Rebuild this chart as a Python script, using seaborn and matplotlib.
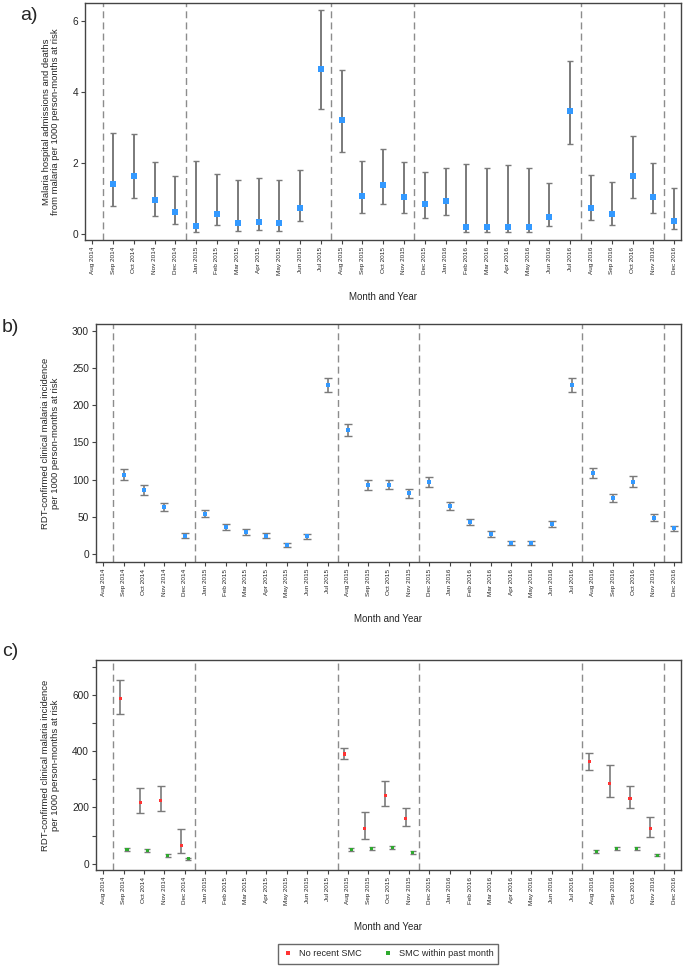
import matplotlib
matplotlib.use("Agg")
import matplotlib.pyplot as plt
import numpy as np
import pandas as pd
import seaborn as sns

sns.set_theme(style="ticks")
plt.rcParams["font.family"] = ["Liberation Sans", "DejaVu Sans"]

nan = np.nan

months = [
    "Aug 2014", "Sep 2014", "Oct 2014", "Nov 2014", "Dec 2014",
    "Jan 2015", "Feb 2015", "Mar 2015", "Apr 2015", "May 2015", "Jun 2015", "Jul 2015",
    "Aug 2015", "Sep 2015", "Oct 2015", "Nov 2015", "Dec 2015",
    "Jan 2016", "Feb 2016", "Mar 2016", "Apr 2016", "May 2016", "Jun 2016", "Jul 2016",
    "Aug 2016", "Sep 2016", "Oct 2016", "Nov 2016", "Dec 2016",
]

# round boundaries (between months)
round_breaks = [0.5, 4.5, 11.5, 15.5, 23.5, 27.5]

# a) hospital admissions and deaths per 1000 person-months
a_rate = [nan, 1.41, 1.64, 0.96, 0.62, 0.21, 0.57, 0.31, 0.33, 0.31, 0.74, 4.64,
          3.20, 1.06, 1.38, 1.05, 0.83, 0.93, 0.20, 0.19, 0.20, 0.19, 0.49, 3.45,
          0.74, 0.56, 1.62, 1.03, 0.37]
a_lo = [nan, 0.78, 1.02, 0.51, 0.28, 0.05, 0.24, 0.09, 0.10, 0.09, 0.37, 3.51,
        2.30, 0.60, 0.85, 0.60, 0.44, 0.52, 0.05, 0.05, 0.05, 0.05, 0.21, 2.53,
        0.38, 0.26, 1.01, 0.59, 0.15]
a_hi = [nan, 2.84, 2.80, 2.02, 1.62, 2.05, 1.69, 1.52, 1.57, 1.52, 1.79, 6.30,
        4.61, 2.05, 2.39, 2.02, 1.74, 1.87, 1.98, 1.86, 1.93, 1.87, 1.44, 4.86,
        1.66, 1.46, 2.76, 2.00, 1.29]

# b) RDT-confirmed clinical malaria incidence
b_rate = [nan, 106.8, 85.4, 62.6, 24.6, 54.1, 35.8, 29.1, 24.6, 12.1, 23.7, 227.1,
          166.7, 92.5, 93.0, 81.4, 96.6, 63.9, 42.5, 26.8, 14.3, 14.8, 39.8, 227.5,
          108.2, 74.7, 97.0, 48.7, 34.4]
b_lo = [nan, 99.2, 79.6, 57.7, 21.5, 49.2, 31.7, 25.5, 21.0, 9.8, 20.6, 217.3,
        158.7, 86.3, 86.7, 75.5, 89.9, 59.0, 38.4, 23.2, 11.6, 12.1, 35.8, 218.2,
        101.5, 69.3, 90.7, 44.3, 30.8]
b_hi = [nan, 114.4, 92.5, 68.4, 28.2, 59.5, 40.2, 33.1, 28.2, 14.8, 27.3, 236.9,
        175.2, 99.2, 99.7, 87.2, 103.3, 69.3, 46.9, 30.8, 17.4, 17.9, 44.3, 236.9,
        114.9, 80.5, 104.2, 53.6, 38.0]

# c) incidence by SMC status
c_none_rate = [nan, 589, 219, 226, 66, nan, nan, nan, nan, nan, nan, nan,
               390, 125, 244, 160, nan, nan, nan, nan, nan, nan, nan, nan,
               362, 286, 232, 125, nan]
c_none_lo = [nan, 532, 181, 187, 37, nan, nan, nan, nan, nan, nan, nan,
             371, 87, 204, 133, nan, nan, nan, nan, nan, nan, nan, nan,
             334, 236, 197, 96, nan]
c_none_hi = [nan, 652, 270, 277, 125, nan, nan, nan, nan, nan, nan, nan,
             413, 184, 294, 198, nan, nan, nan, nan, nan, nan, nan, nan,
             393, 352, 277, 165, nan]
c_smc_rate = [nan, 51, 46, 30, 17, nan, nan, nan, nan, nan, nan, nan,
              50, 53, 56, 39, nan, nan, nan, nan, nan, nan, nan, nan,
              43, 55, 55, 30, nan]
c_smc_lo = [nan, 45, 41, 25, 13, nan, nan, nan, nan, nan, nan, nan,
            44, 49, 51, 34, nan, nan, nan, nan, nan, nan, nan, nan,
            38, 50, 50, 26, nan]
c_smc_hi = [nan, 57, 51, 34, 20, nan, nan, nan, nan, nan, nan, nan,
            56, 59, 62, 44, nan, nan, nan, nan, nan, nan, nan, nan,
            47, 60, 60, 34, nan]

BLUE = "#3399FF"
RED = "#FF3333"
GREEN = "#2EAA2E"
BAR = "#7A7A7A"
CAP = "#333333"
SPINE = "#444444"

W, H = 685, 969
fig = plt.figure(figsize=(W / 100, H / 100), dpi=100)


def px_axes(left, top, right, bottom):
    return fig.add_axes([left / W, 1 - bottom / H, (right - left) / W, (bottom - top) / H])


def draw_errors(ax, x, lo, hi, lw=1.2, capw=2.5):
    x = np.asarray(x, float)
    lo = np.asarray(lo, float)
    hi = np.asarray(hi, float)
    ok = ~np.isnan(lo)
    mid = (lo + hi) / 2
    _, caps, bars = ax.errorbar(x[ok], mid[ok], yerr=(hi[ok] - lo[ok]) / 2, fmt="none",
                                ecolor=BAR, elinewidth=lw, capsize=capw, capthick=1.0, zorder=2)
    for c in caps:
        c.set_color(CAP)


def style_axes(ax, ylim, yticks, ylabel, minor=None):
    ax.set_xlim(-0.35, 28.33)
    ax.set_ylim(*ylim)
    ax.set_xticks(range(len(months)))
    ax.set_xticklabels(months, rotation=90, fontsize=4.6)
    ax.set_yticks(yticks)
    ax.set_yticklabels([str(t) for t in yticks], fontsize=7.3)
    if minor is not None:
        ax.set_yticks(minor, minor=True)
        ax.tick_params(axis="y", which="minor", length=3, width=0.8, color=SPINE)
    ax.tick_params(axis="both", which="major", length=3, width=0.8, color=SPINE, pad=2)
    for s in ax.spines.values():
        s.set_color(SPINE)
        s.set_linewidth(1.0)
    for xb in round_breaks:
        ax.axvline(xb, color="#8C8C8C", linestyle=(0, (5, 3)), linewidth=1.0, zorder=1)
    ax.set_xlabel("Month and Year", fontsize=7.0, labelpad=12)
    ax.set_ylabel(ylabel, fontsize=6.8, labelpad=9, linespacing=1.05)


idx = np.arange(len(months))

# ---------------- a) ----------------
ax_a = px_axes(85, 3, 681, 240)
df_a = pd.DataFrame({"idx": idx, "rate": a_rate})
draw_errors(ax_a, idx, a_lo, a_hi, lw=1.4, capw=2.5)
sns.scatterplot(data=df_a, x="idx", y="rate", ax=ax_a, marker="s", color=BLUE,
                s=16, linewidth=0, zorder=3)
style_axes(ax_a, (-0.17, 6.5), [0, 2, 4, 6],
           "Malaria hospital admissions and deaths\nfrom malaria per 1000 person-months at risk")

# ---------------- b) ----------------
ax_b = px_axes(96, 324, 681, 562)
df_b = pd.DataFrame({"idx": idx, "rate": b_rate})
draw_errors(ax_b, idx, b_lo, b_hi, lw=1.2, capw=2.8)
sns.scatterplot(data=df_b, x="idx", y="rate", ax=ax_b, marker="s", color=BLUE,
                s=6, linewidth=0, zorder=3)
style_axes(ax_b, (-10.7, 309), [0, 50, 100, 150, 200, 250, 300],
           "RDT-confirmed clinical malaria incidence\nper 1000 person-months at risk")

# ---------------- c) ----------------
ax_c = px_axes(96, 660, 681, 870)
offset = 0.17
df_c = pd.concat([
    pd.DataFrame({"idx": idx - offset, "rate": c_none_rate, "group": "No recent SMC"}),
    pd.DataFrame({"idx": idx + offset, "rate": c_smc_rate, "group": "SMC within past month"}),
], ignore_index=True)
draw_errors(ax_c, idx - offset, c_none_lo, c_none_hi, lw=1.2, capw=2.8)
draw_errors(ax_c, idx + offset, c_smc_lo, c_smc_hi, lw=1.2, capw=2.0)
sns.scatterplot(data=df_c, x="idx", y="rate", hue="group", ax=ax_c, marker="s",
                palette={"No recent SMC": RED, "SMC within past month": GREEN},
                s=5, linewidth=0, zorder=3)
style_axes(ax_c, (-22.5, 724.5), [0, 200, 400, 600],
           "RDT-confirmed clinical malaria incidence\nper 1000 person-months at risk",
           minor=[100, 300, 500, 700])

handles, labels = ax_c.get_legend_handles_labels()
ax_c.get_legend().remove()
for h in handles:
    h.set_markersize(2.2)
leg = fig.legend(handles, labels, loc="center", bbox_to_anchor=(388 / W, 1 - 954 / H),
                 ncol=2, frameon=True, fancybox=False, fontsize=6.6, handletextpad=0.6,
                 columnspacing=2.2, borderpad=0.55, handlelength=1.2)
leg.get_frame().set_edgecolor(SPINE)
leg.get_frame().set_linewidth(1.0)

# panel labels
fig.text(20 / W, 1 - 16 / H, "a)", fontsize=14, va="center", ha="left")
fig.text(2 / W, 1 - 327 / H, "b)", fontsize=14, va="center", ha="left")
fig.text(2 / W, 1 - 651 / H, "c)", fontsize=14, va="center", ha="left")

fig.savefig("out.png", dpi=100)
